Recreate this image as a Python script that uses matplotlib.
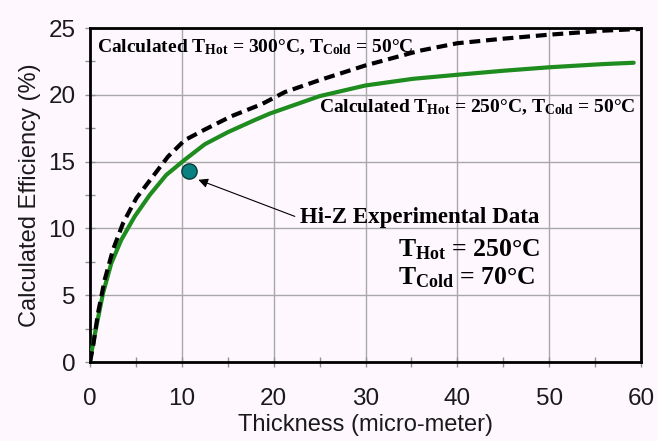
import numpy as np
import matplotlib
matplotlib.use("Agg")
import matplotlib.pyplot as plt

# values
thick_250 = [0, 0.14, 0.69, 1.42, 2.32, 3.41, 4.87, 6.5, 8.3, 10.3, 12.5, 15.0,
             17.9, 19.6, 25, 30, 35.2, 40, 45, 50, 55.9, 59.2]
eff_250 = [0, 0.67, 2.66, 5.16, 7.4, 9.15, 10.9, 12.5, 14.0, 15.13, 16.3, 17.2,
           18.1, 18.6, 19.9, 20.7, 21.2, 21.5, 21.8, 22.06, 22.3, 22.4]

thick_300 = [0, 0.33, 0.87, 1.6, 2.5, 3.6, 5.05, 6.7, 8.5, 10.3, 12.5, 15.4,
             18.7, 21.2, 25, 30, 35.9, 40, 45, 50, 55.9, 59.9]
eff_300 = [0, 1.17, 3.66, 6.16, 8.4, 10.4, 12.27, 13.76, 15.38, 16.6, 17.4, 18.4,
           19.3, 20.2, 21.1, 22.2, 23.3, 23.86, 24.2, 24.5, 24.8, 24.93]

exp_thick = [10.8]
exp_eff = [14.3]

label_300 = r"Calculated $\mathrm{T_{Hot}}$ = 300°C, $\mathrm{T_{Cold}}$ = 50°C"
label_250 = r"Calculated $\mathrm{T_{Hot}}$ = 250°C, $\mathrm{T_{Cold}}$ = 50°C"
exp_title = "Hi-Z Experimental Data"
exp_hot = r"$\mathrm{T_{Hot}}$ = 250°C"
exp_cold = r"$\mathrm{T_{Cold}}$ = 70°C"

plt.rcParams["font.family"] = "Liberation Sans"
plt.rcParams["mathtext.fontset"] = "custom"
plt.rcParams["mathtext.rm"] = "Liberation Serif:bold"
plt.rcParams["mathtext.bf"] = "Liberation Serif:bold"
plt.rcParams["mathtext.it"] = "Liberation Serif:bold"

bg = "#fef8fe"
fig = plt.figure(figsize=(6.58, 4.41), dpi=100, facecolor=bg)
ax = fig.add_axes([0.1368, 0.1791, 0.8374, 0.7574], facecolor=bg)

ax.plot(thick_250, eff_250, color="#1e8c1e", lw=3, solid_capstyle="round",
        solid_joinstyle="round", zorder=3)
ax.plot(thick_300, eff_300, color="black", lw=3, dashes=(2.6, 1.4), zorder=4)
ax.plot(exp_thick, exp_eff, "o", ms=11, mfc="#0a8080", mec="#0b3a3a", mew=1, zorder=5)

ax.set_xlim(0, 60)
ax.set_ylim(0, 25)
ax.set_xticks(np.arange(0, 61, 10))
ax.set_yticks(np.arange(0, 26, 5))
ax.set_xticks(np.arange(5, 60, 10), minor=True)
ax.set_yticks(np.arange(2.5, 25, 5), minor=True)
ax.grid(True, which="major", color="#a8a8a8", lw=1)
ax.set_axisbelow(True)
ax.tick_params(which="both", direction="inout", length=7, width=1, color="#909090",
               labelsize=17.5, labelcolor="#1a1a1a")
ax.tick_params(axis="x", which="major", pad=15)
ax.tick_params(axis="y", which="major", pad=7)
for s in ax.spines.values():
    s.set_linewidth(2)
    s.set_color("black")

ax.set_xlabel("Thickness (micro-meter)", fontsize=17, color="#1a1a1a", labelpad=3)
ax.set_ylabel("Calculated Efficiency (%)", fontsize=17, color="#1a1a1a", labelpad=5)

serif = dict(family="Liberation Serif", fontweight="bold", color="black")
ax.text(0.76, 23.2, label_300, fontsize=14, va="baseline", ha="left", **serif)
ax.text(59.4, 18.7, label_250, fontsize=14, va="baseline", ha="right", **serif)
ax.text(22.9, 10.42, exp_title, fontsize=16.5, va="baseline", ha="left", **serif)
ax.text(33.5, 7.88, exp_hot, fontsize=18.5, va="baseline", ha="left", **serif)
ax.text(33.5, 5.78, exp_cold, fontsize=18.5, va="baseline", ha="left", **serif)

ax.annotate("", xy=(11.8, 13.64), xytext=(22.3, 10.9),
            arrowprops=dict(arrowstyle="-|>", color="black", lw=0.8,
                            mutation_scale=14, shrinkA=0, shrinkB=0))

fig.savefig("out.png", dpi=100, facecolor=bg)
